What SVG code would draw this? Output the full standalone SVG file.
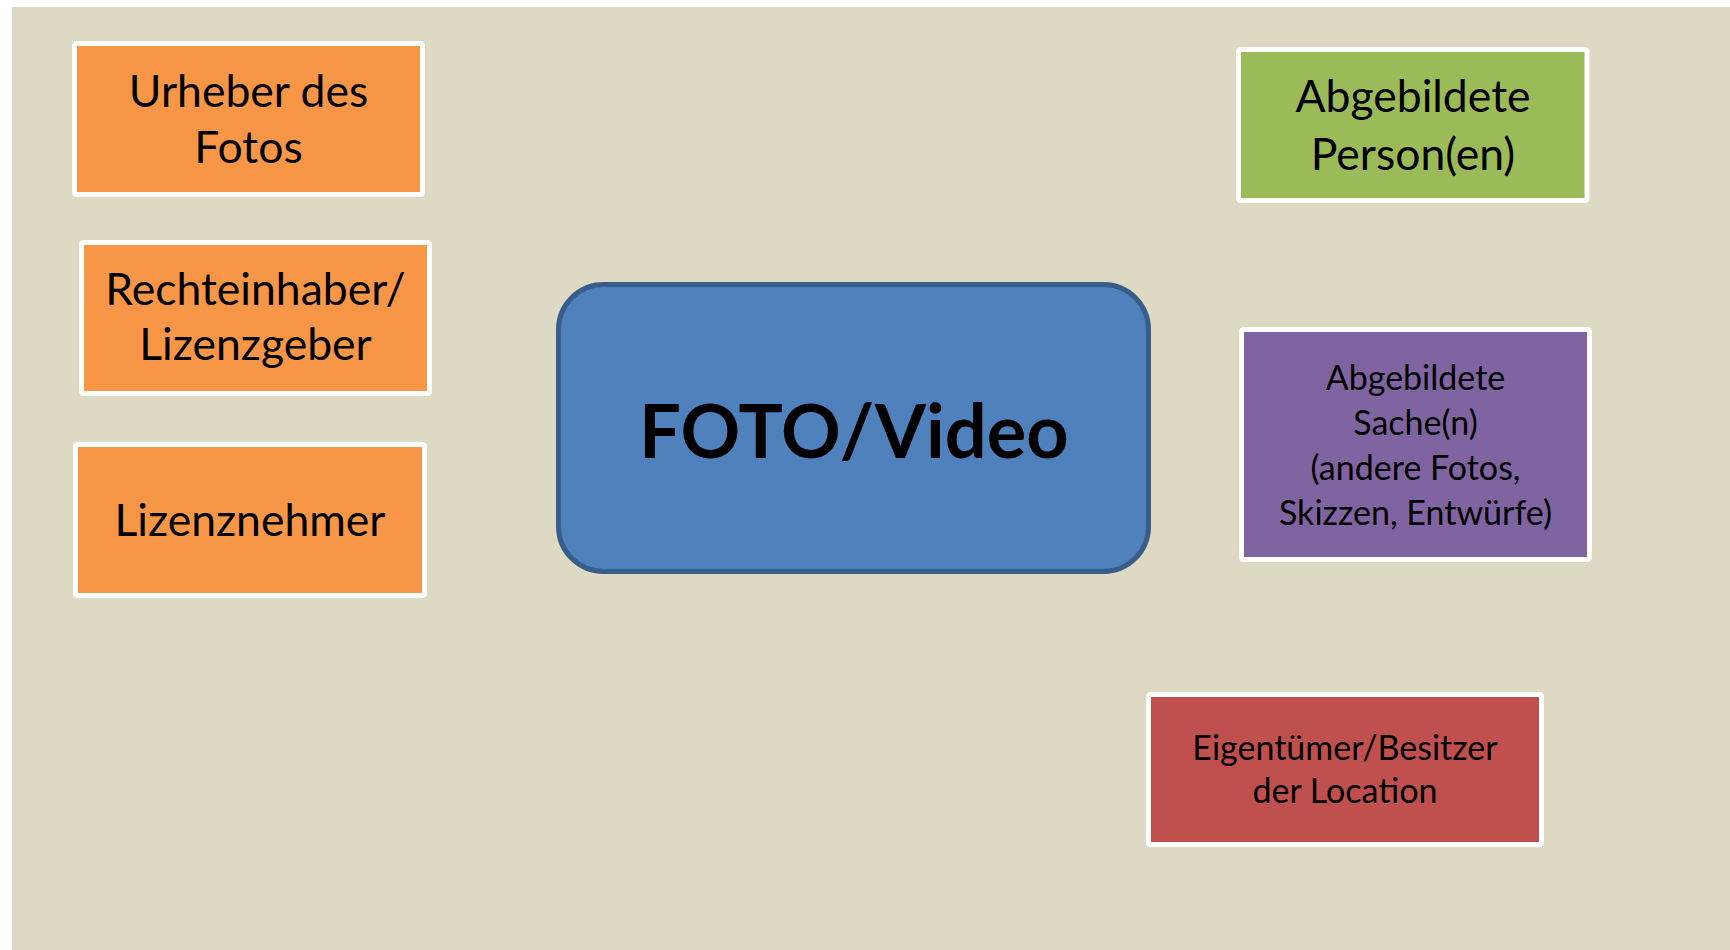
<svg xmlns="http://www.w3.org/2000/svg" width="1730" height="950" viewBox="0 0 1730 950">
<style>
.box{stroke:#FFFFFF;stroke-width:5}
.t{font-family:Lato,"Open Sans","Liberation Sans",sans-serif;fill:#000;text-anchor:middle}
.big{font-size:44.5px}
.small{font-size:34px}
.center{font-size:74px;font-weight:bold}
</style>
<rect x="0" y="0" width="1730" height="950" fill="#FFFFFF"/>
<rect x="12" y="7" width="1718" height="943" fill="#DDD9C3"/>
<g id="connectors"></g>
<g id="urheber">
<rect class="box" x="74.5" y="43.5" width="348" height="151" rx="2" fill="#F79646"/>
<text class="t big" x="248.5" y="107">Urheber des</text>
<text class="t big" x="248.5" y="163">Fotos</text>
</g>
<g id="rechteinhaber">
<rect class="box" x="81.5" y="242.5" width="348" height="151" rx="2" fill="#F79646"/>
<text class="t big" x="255.5" y="305">Rechteinhaber/</text>
<text class="t big" x="255.5" y="360">Lizenzgeber</text>
</g>
<g id="lizenznehmer">
<rect class="box" x="75.5" y="444.5" width="349" height="151" rx="2" fill="#F79646"/>
<text class="t big" x="250" y="536">Lizenznehmer</text>
</g>
<g id="foto">
<rect x="558.5" y="284.5" width="590" height="287" rx="45" fill="#4F81BD" stroke="#385D8A" stroke-width="5"/>
<text class="t center" x="854" y="458">FOTO/Video</text>
</g>
<g id="personen">
<rect class="box" x="1238.5" y="49.5" width="348.5" height="151" rx="2" fill="#9BBB59"/>
<text class="t big" x="1413" y="112">Abgebildete</text>
<text class="t big" x="1413" y="170">Person(en)</text>
</g>
<g id="sachen">
<rect class="box" x="1241.5" y="329.5" width="348" height="230" rx="2" fill="#8064A2" stroke-width="7"/>
<text class="t small" x="1415.5" y="390">Abgebildete</text>
<text class="t small" x="1415.5" y="435">Sache(n)</text>
<text class="t small" x="1415.5" y="480">(andere Fotos,</text>
<text class="t small" x="1415.5" y="525">Skizzen, Entwürfe)</text>
</g>
<g id="eigentuemer">
<rect class="box" x="1148.5" y="694.5" width="393" height="150" rx="2" fill="#C0504D"/>
<text class="t small" x="1345" y="760">Eigentümer/Besitzer</text>
<text class="t small" x="1345" y="803">der Location</text>
</g>
</svg>
